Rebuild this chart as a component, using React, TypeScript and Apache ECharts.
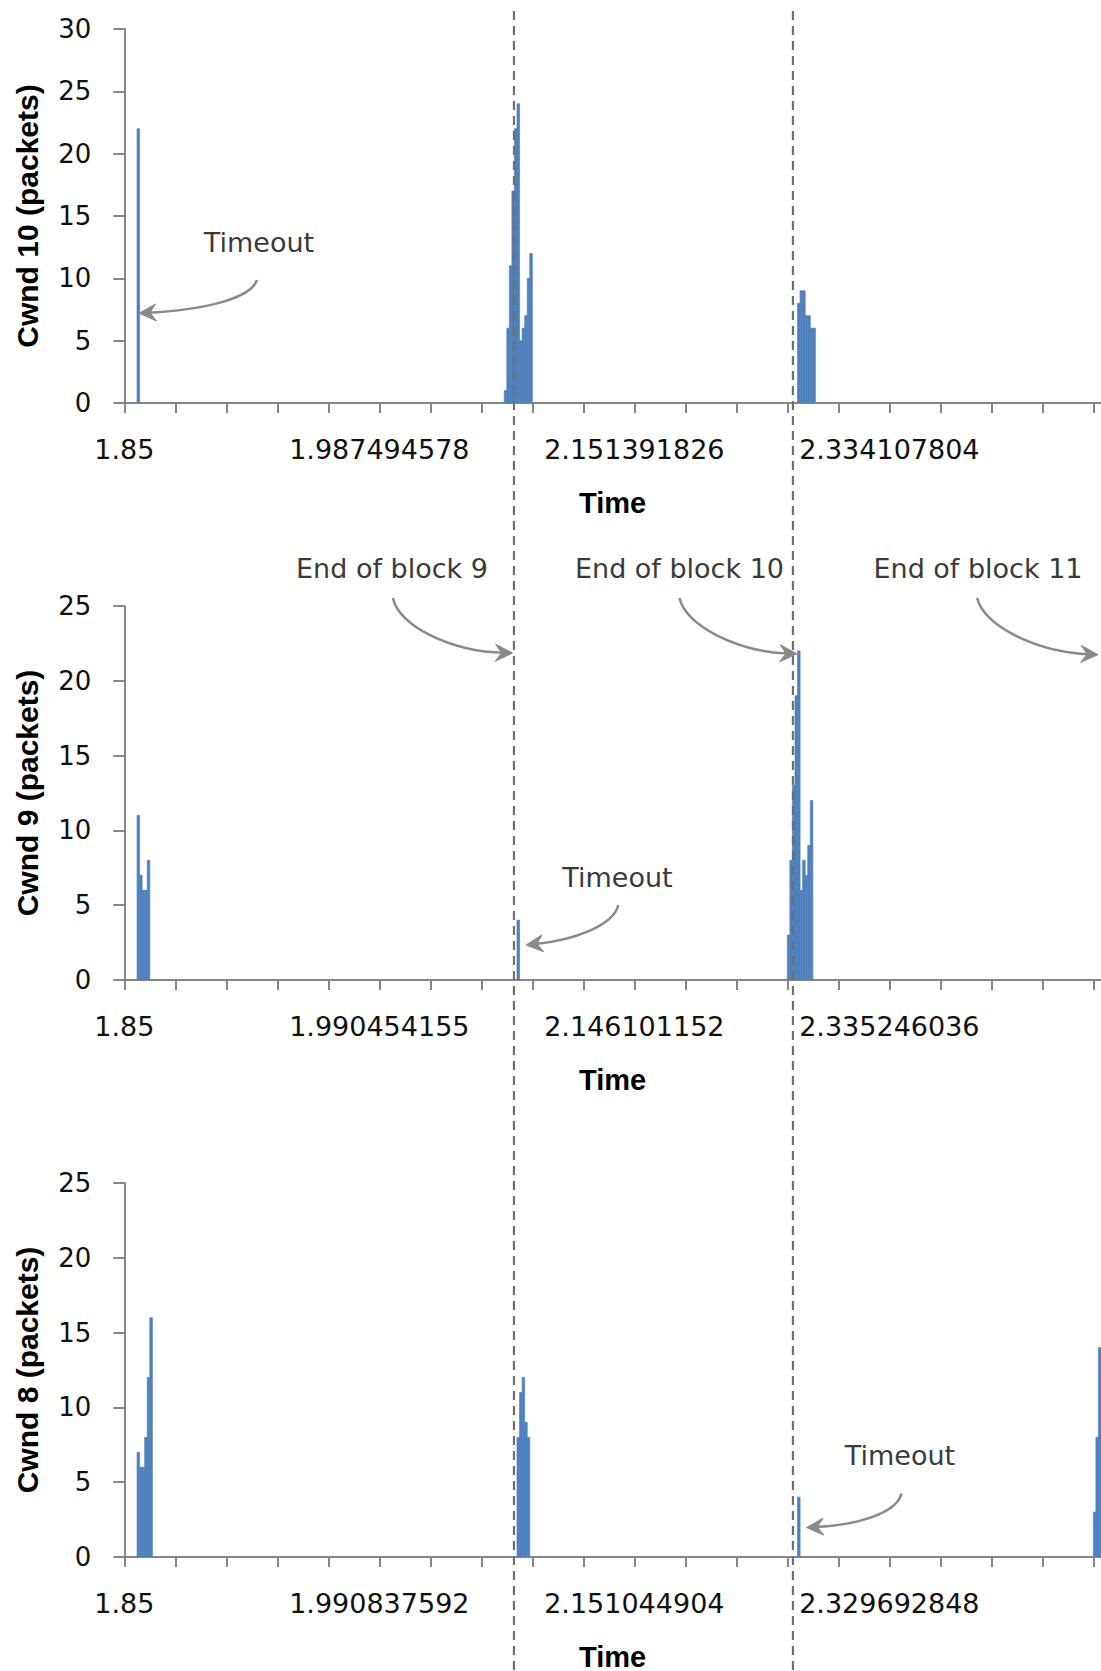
import React, { useEffect, useRef } from "react";
import * as echarts from "echarts";

// ---------- data ----------
// x positions are sample indices along the (category-like) time axis; 20 samples per tick mark
const sampleCount = 383;
const tickEvery = 20;
const labelEvery = 100;

const cwnd10TickLabels = ["1.85", "1.987494578", "2.151391826", "2.334107804"];
const cwnd9TickLabels = ["1.85", "1.990454155", "2.146101152", "2.335246036"];
const cwnd8TickLabels = ["1.85", "1.990837592", "2.151044904", "2.329692848"];

const cwnd10Bursts = [
  { start: 5, values: [22] },
  { start: 149, values: [1, 6, 11, 17, 22, 24, 5, 6, 7, 10, 12] },
  { start: 264, values: [8, 9, 9, 7, 7, 6, 6] },
];
const cwnd9Bursts = [
  { start: 5, values: [11, 7, 6, 6, 8] },
  { start: 154, values: [4] },
  { start: 260, values: [3, 8, 13, 19, 22, 6, 8, 7, 9, 12] },
];
const cwnd8Bursts = [
  { start: 5, values: [7, 6, 6, 8, 12, 16] },
  { start: 154, values: [8, 11, 12, 9, 8] },
  { start: 264, values: [4] },
  { start: 380, values: [3, 8, 14] },
];

const yMaxes = [30, 25, 25];
const yTitles = ["Cwnd 10 (packets)", "Cwnd 9 (packets)", "Cwnd 8 (packets)"];

// sample positions of the "end of block" markers (dashed lines)
const blockEndSamples = [152.8, 262.2];

// ---------- layout / style ----------
const W = 1101;
const H = 1671;
const gridTops = [29, 606, 1183];
const gridHeight = 374;
const gridLeft = 124.3;
const barColor = "#4F81BD";
const axisColor = "#868686";
const annoColor = "#8a8a8a";

type Pt = [number, number];
const annotations: { text: string; pos: Pt }[] = [
  { text: "Timeout", pos: [259, 242] },
  { text: "End of block 9", pos: [392, 568] },
  { text: "End of block 10", pos: [679.5, 568] },
  { text: "End of block 11", pos: [978, 568] },
  { text: "Timeout", pos: [617.5, 877] },
  { text: "Timeout", pos: [900, 1455] },
];
const arrows: { from: Pt; c1: Pt; c2: Pt; to: Pt }[] = [
  { from: [257, 280], c1: [250, 300], c2: [200, 310], to: [139, 313.3] },
  { from: [392.9, 598], c1: [398, 625], c2: [450, 652], to: [512.5, 653] },
  { from: [679.5, 598], c1: [685, 625], c2: [737, 652], to: [796.9, 653.8] },
  { from: [977.2, 598], c1: [983, 625], c2: [1035, 652], to: [1098, 654.6] },
  { from: [618.3, 905], c1: [614, 925], c2: [575, 940], to: [526, 945] },
  { from: [901.4, 1493.5], c1: [897, 1513], c2: [858, 1525], to: [806.5, 1527.5] },
];

function expand(bursts: { start: number; values: number[] }[]) {
  const out: number[][] = [];
  bursts.forEach((b) => b.values.forEach((v, k) => out.push([b.start + k, v])));
  return out;
}

function arrowGraphics(a: { from: Pt; c1: Pt; c2: Pt; to: Pt }) {
  const dx = a.to[0] - a.c2[0];
  const dy = a.to[1] - a.c2[1];
  const len = Math.hypot(dx, dy) || 1;
  const ux = dx / len;
  const uy = dy / len;
  const px = -uy;
  const py = ux;
  const L = 17;
  const Wd = 8.5;
  const notch = 11;
  const tip = a.to;
  const end: Pt = [tip[0] - ux * 8, tip[1] - uy * 8];
  return [
    {
      type: "bezierCurve",
      z: 100,
      shape: {
        x1: a.from[0],
        y1: a.from[1],
        cpx1: a.c1[0],
        cpy1: a.c1[1],
        cpx2: a.c2[0],
        cpy2: a.c2[1],
        x2: end[0],
        y2: end[1],
      },
      style: { stroke: annoColor, lineWidth: 2.5, fill: null },
    },
    {
      type: "polygon",
      z: 100,
      shape: {
        points: [
          [tip[0], tip[1]],
          [tip[0] - ux * L + px * Wd, tip[1] - uy * L + py * Wd],
          [tip[0] - ux * notch, tip[1] - uy * notch],
          [tip[0] - ux * L - px * Wd, tip[1] - uy * L - py * Wd],
        ],
      },
      style: { fill: annoColor, stroke: annoColor, lineWidth: 1 },
    },
  ];
}

export default function App() {
  const ref = useRef<HTMLDivElement>(null);

  useEffect(() => {
    if (!ref.current) return;
    const chart = echarts.init(ref.current, null, { renderer: "svg" });
    const tickLabelSets = [cwnd10TickLabels, cwnd9TickLabels, cwnd8TickLabels];
    const burstSets = [cwnd10Bursts, cwnd9Bursts, cwnd8Bursts];

    const renderItem = (params: any, api: any) => {
      const i = api.value(0);
      const v = api.value(1);
      const a = api.coord([i, 0]);
      const b = api.coord([i + 1, v]);
      return {
        type: "rect",
        shape: { x: a[0], y: b[1], width: b[0] - a[0], height: a[1] - b[1] },
        style: { fill: barColor, stroke: barColor, lineWidth: 0.7 },
      };
    };

    chart.setOption({
      animation: false,
      backgroundColor: "#ffffff",
      grid: gridTops.map((t) => ({
        left: gridLeft,
        right: 0,
        top: t,
        height: gridHeight,
        containLabel: false,
        outerBoundsMode: "none",
      })),
      xAxis: [0, 1, 2].map((g) => ({
        type: "value",
        gridIndex: g,
        min: 0,
        max: sampleCount,
        interval: tickEvery,
        axisLine: { show: true, onZero: false, lineStyle: { color: axisColor, width: 2 } },
        axisTick: { show: true, length: 10, lineStyle: { color: axisColor, width: 2 } },
        splitLine: { show: false },
        axisLabel: {
          show: true,
          margin: 33,
          fontSize: 27,
          fontFamily: "DejaVu Sans",
          color: "#111111",
          showMaxLabel: false,
          formatter: (v: number) =>
            v % labelEvery === 0 ? tickLabelSets[g][v / labelEvery] ?? "" : "",
        },
        name: "Time",
        nameLocation: "middle",
        nameGap: 85,
        nameTextStyle: {
          fontSize: 29,
          fontWeight: "bold",
          fontFamily: "Liberation Sans",
          color: "#000000",
        },
      })),
      yAxis: [0, 1, 2].map((g) => ({
        type: "value",
        gridIndex: g,
        min: 0,
        max: yMaxes[g],
        interval: 5,
        axisLine: { show: true, lineStyle: { color: axisColor, width: 2 } },
        axisTick: { show: true, length: 11, lineStyle: { color: axisColor, width: 2 } },
        splitLine: { show: false },
        axisLabel: {
          show: true,
          margin: 33,
          fontSize: 26,
          fontFamily: "DejaVu Sans",
          color: "#111111",
        },
        name: yTitles[g],
        nameLocation: "middle",
        nameRotate: 90,
        nameGap: 82,
        nameTextStyle: {
          fontSize: 30,
          fontWeight: "bold",
          fontFamily: "Liberation Sans",
          color: "#000000",
        },
      })),
      series: [0, 1, 2].map((g) => ({
        type: "custom",
        xAxisIndex: g,
        yAxisIndex: g,
        renderItem,
        clip: true,
        data: expand(burstSets[g]),
      })),
    });

    const dashX = blockEndSamples.map(
      (s) => chart.convertToPixel({ xAxisIndex: 0 }, s) as number
    );

    const graphics: any[] = [];
    dashX.forEach((x) => {
      graphics.push({
        type: "line",
        z: 90,
        shape: { x1: x, y1: 11, x2: x, y2: H },
        style: { stroke: "#6f6f6f", lineWidth: 2.2, lineDash: [9, 6] },
      });
    });
    annotations.forEach((a) => {
      graphics.push({
        type: "text",
        z: 100,
        x: a.pos[0],
        y: a.pos[1],
        style: {
          text: a.text,
          fontSize: 27,
          fontFamily: "DejaVu Sans",
          fill: "#3a3a3a",
          align: "center",
          verticalAlign: "middle",
          textAlign: "center",
          textVerticalAlign: "middle",
        },
      });
    });
    arrows.forEach((a) => graphics.push(...arrowGraphics(a)));
    chart.setOption({ graphic: graphics });

    return () => chart.dispose();
  }, []);

  return (
    <div
      ref={ref}
      style={{ position: "absolute", left: 0, top: 0, width: W, height: H, background: "#fff" }}
    />
  );
}
